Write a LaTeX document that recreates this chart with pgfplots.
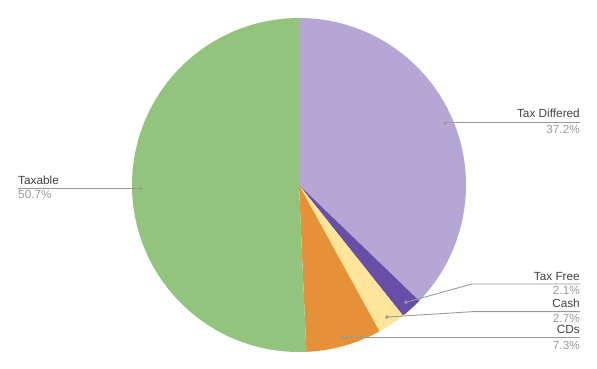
\documentclass[border=0pt]{standalone}
\usepackage{pgfplots}
\usepackage{pgfplotstable}
\pgfplotsset{compat=1.18}
\usepackage{fontspec}
\setmainfont{Liberation Sans}
\definecolor{cA}{HTML}{B4A7D6}
\definecolor{cB}{HTML}{674EA7}
\definecolor{cC}{HTML}{FFE599}
\definecolor{cD}{HTML}{E69138}
\definecolor{cE}{HTML}{93C47D}
\definecolor{lblname}{HTML}{424242}
\definecolor{lblpct}{HTML}{9A9A9A}
\definecolor{leader}{HTML}{9A9A9A}
\pgfplotstableread{
label pct
TaxDiffered 37.2
TaxFree 2.1
Cash 2.7
CDs 7.3
Taxable 50.7
}\piedata
\begin{document}
\begin{tikzpicture}
% cumulative angles from the data (clockwise from 12 o'clock)
\pgfplotstablegetelem{0}{pct}\of\piedata \let\pA\pgfplotsretval
\pgfplotstablegetelem{1}{pct}\of\piedata \let\pB\pgfplotsretval
\pgfplotstablegetelem{2}{pct}\of\piedata \let\pC\pgfplotsretval
\pgfplotstablegetelem{3}{pct}\of\piedata \let\pD\pgfplotsretval
\pgfplotstablegetelem{4}{pct}\of\piedata \let\pE\pgfplotsretval
\pgfmathsetmacro\aO{90}
\pgfmathsetmacro\aA{\aO-3.6*\pA}
\pgfmathsetmacro\aB{\aA-3.6*\pB}
\pgfmathsetmacro\aC{\aB-3.6*\pC}
\pgfmathsetmacro\aD{\aC-3.6*\pD}
\pgfmathsetmacro\aE{\aD-3.6*\pE}
\pgfmathsetmacro\mA{(\aO+\aA)/2}
\pgfmathsetmacro\mB{(\aA+\aB)/2}
\pgfmathsetmacro\mC{(\aB+\aC)/2}
\pgfmathsetmacro\mD{(\aC+\aD)/2}
\pgfmathsetmacro\mE{(\aD+\aE)/2}
\def\R{167}
\pgfmathsetmacro\Rd{0.95*\R}
\begin{axis}[
  hide axis, clip=false, scale only axis,
  x=1pt, y=1pt,
  xmin=0, xmax=597, ymin=0, ymax=369,
]
\path (axis cs:0,0) rectangle (axis cs:597,369);
\coordinate (c) at (axis cs:299,184);
\coordinate (xr) at (axis cs:580,0);
\coordinate (xl) at (axis cs:18,0);
\fill[cA] (c) -- ++(\aO:\R pt) arc[start angle=\aO, end angle=\aA, radius=\R pt] -- cycle;
\fill[cB] (c) -- ++(\aA:\R pt) arc[start angle=\aA, end angle=\aB, radius=\R pt] -- cycle;
\fill[cC] (c) -- ++(\aB:\R pt) arc[start angle=\aB, end angle=\aC, radius=\R pt] -- cycle;
\fill[cD] (c) -- ++(\aC:\R pt) arc[start angle=\aC, end angle=\aD, radius=\R pt] -- cycle;
\fill[cE] (c) -- ++(\aD:\R pt) arc[start angle=\aD, end angle=\aE, radius=\R pt] -- cycle;
% leader dots
\path (c) ++(\mA:\Rd pt) coordinate (dA);
\path (c) ++(\mB:\Rd pt) coordinate (dB);
\path (c) ++(\mC:\Rd pt) coordinate (dC);
\path (c) ++(\mD:\Rd pt) coordinate (dD);
\path (c) ++(\mE:\Rd pt) coordinate (dE);
\draw[leader, line width=0.9pt] (dA) -- (dA -| xr);
\draw[leader, line width=0.9pt] (dB) -- (axis cs:472,85) -- (axis cs:580,85);
\draw[leader, line width=0.9pt] (dC) -- (axis cs:472,57.3) -- (axis cs:580,57.3);
\draw[leader, line width=0.9pt] (dD) -- (dD -| xr);
\draw[leader, line width=0.9pt] (dE) -- (dE -| xl);
\fill[leader] (dA) circle (1.9pt);
\fill[leader] (dB) circle (1.9pt);
\fill[leader] (dC) circle (1.9pt);
\fill[leader] (dD) circle (1.9pt);
\fill[leader] (dE) circle (1.9pt);
\begin{scope}[every node/.style={inner sep=0pt, font=\fontsize{11.8}{13}\selectfont}]
\node[lblname, anchor=base east] at (axis cs:580,251) {Tax Differed};
\node[lblpct, anchor=base east] at (axis cs:580,235) {37.2\%};
\node[lblname, anchor=base east] at (axis cs:580,88.3) {Tax Free};
\node[lblpct, anchor=base east] at (axis cs:580,74) {2.1\%};
\node[lblname, anchor=base east] at (axis cs:580,61.7) {Cash};
\node[lblpct, anchor=base east] at (axis cs:580,46.3) {2.7\%};
\node[lblname, anchor=base east] at (axis cs:580,35) {CDs};
\node[lblpct, anchor=base east] at (axis cs:580,19.7) {7.3\%};
\node[lblname, anchor=base west] at (axis cs:18,184) {Taxable};
\node[lblpct, anchor=base west] at (axis cs:18,170.7) {50.7\%};
\end{scope}
\end{axis}
\end{tikzpicture}
\end{document}
